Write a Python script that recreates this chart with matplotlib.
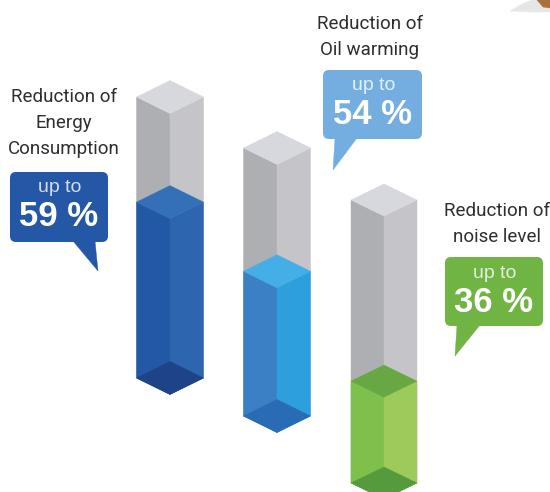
import matplotlib
matplotlib.use("Agg")
import matplotlib.pyplot as plt
from matplotlib.patches import Polygon, FancyBboxPatch

# ---- data ----
titles = ["Reduction of\nEnergy\nConsumption", "Reduction of\nOil warming", "Reduction of\nnoise level"]
values = [59, 54, 36]            # printed percentages
fill_levels = [62.6, 54.0, 36.0] # drawn liquid level, % of the column height

# ---- layout (pixels of the 550x492 picture) ----
cx = [170, 277, 384]
half_w = [33.5, 33.5, 33]
dy = [16.5, 16.5, 16]
top_y = [97, 148, 200]
bot_y = [378, 416, 483]
grey = ("#AEAFB3", "#C5C4C9", "#D7D8DD")
fills = [
    dict(left="#2358A6", right="#2D65AE", top="#3370B8", bottom="#1F4387"),
    dict(left="#3B80C5", right="#2D9FDC", top="#44AEE6", bottom="#2A6BB5"),
    dict(left="#7FBF4C", right="#9CCB5B", top="#67A843", bottom="#559A3C"),
]
boxes = [(10, 172, 98, 70), (323, 70, 99, 69), (445, 257, 98, 69)]
tails = [[(73, 241), (98, 271), (95, 241)],
         [(335, 138), (333, 170), (357, 138)],
         [(457, 325), (455, 356), (480, 325)]]
box_colors = ["#2457A5", "#74AEE0", "#70B544"]
title_pos = [(64, 97), (370, 24), (497, 211)]

fig = plt.figure(figsize=(5.5, 4.92), dpi=100)
ax = fig.add_axes([0, 0, 1, 1])
ax.set_xlim(0, 550)
ax.set_ylim(492, 0)
ax.axis("off")


def poly(pts, color, z=2):
    ax.add_patch(Polygon(pts, closed=True, fc=color, ec=color, lw=0.3, zorder=z))


for i in range(3):
    c, w, d, t, b = cx[i], half_w[i], dy[i], top_y[i], bot_y[i]
    lvl = b - (b - t) * fill_levels[i] / 100.0
    # grey column
    poly([(c - w, t), (c, t + d), (c, b + d), (c - w, b)], grey[0])
    poly([(c + w, t), (c, t + d), (c, b + d), (c + w, b)], grey[1])
    poly([(c - w, t), (c, t - d), (c + w, t), (c, t + d)], grey[2])
    # filled part
    f = fills[i]
    poly([(c - w, lvl), (c, lvl + d), (c, b + d), (c - w, b)], f["left"], 3)
    poly([(c + w, lvl), (c, lvl + d), (c, b + d), (c + w, b)], f["right"], 3)
    poly([(c - w, lvl), (c, lvl - d), (c + w, lvl), (c, lvl + d)], f["top"], 3)
    poly([(c - w, b), (c, b - d), (c + w, b), (c, b + d)], f["bottom"], 4)

    # callout
    x, y, bw, bh = boxes[i]
    r = 6
    ax.add_patch(FancyBboxPatch((x + r, y + r), bw - 2 * r, bh - 2 * r,
                                boxstyle=f"round,pad={r},rounding_size={r}",
                                fc=box_colors[i], ec="none", zorder=5))
    poly(tails[i], box_colors[i], 5)
    ax.text(x + bw / 2 + 1, y + 16, "up to", color="white", alpha=0.8,
            family="Liberation Sans", fontsize=14, ha="center", va="center", zorder=6)
    ax.text(x + bw / 2, y + 45, f"{values[i]} %", color="white",
            family="Liberation Sans", weight="bold", fontsize=25,
            ha="center", va="center", zorder=6)
    # heading
    tx, ty = title_pos[i]
    for k, line in enumerate(titles[i].split("\n")):
        ax.text(tx, ty + k * 26, line, color="#2E2E30", family="Roboto",
                fontsize=13.5, ha="center", va="center", zorder=6)

# clipped ornament in the top-right corner
poly([(510, 11), (522, 4), (532, 0), (550, 0), (550, 12), (530, 12)], "#E6E6E4", 1)
poly([(537, 0), (550, 0), (550, 8), (543, 7)], "#A9713C", 2)

fig.savefig("out.png", dpi=100)
